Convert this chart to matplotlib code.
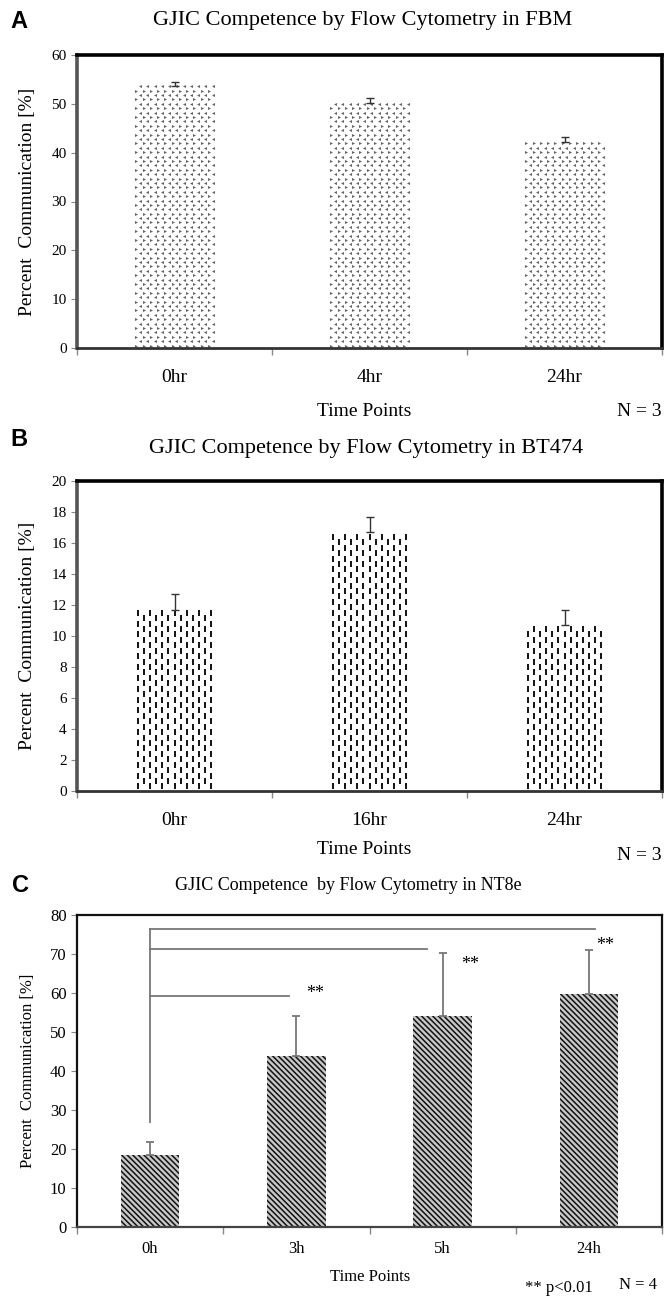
import numpy as np
import matplotlib
matplotlib.use("Agg")
import matplotlib.pyplot as plt

# ---------------- data ----------------
a_labels = ["0hr", "4hr", "24hr"]
a_values = [53.7, 50.2, 42.2]
a_errors = [0.8, 0.9, 1.0]

b_labels = ["0hr", "16hr", "24hr"]
b_values = [11.7, 16.7, 10.7]
b_errors = [1.0, 1.0, 1.0]

c_labels = ["0h", "3h", "5h", "24h"]
c_values = [18.5, 43.8, 54.0, 59.7]
c_errors = [3.3, 10.4, 16.3, 11.3]

# significance brackets (from 0h to target)
sig_levels = [59.3, 71.3, 76.5]
sig_ends = [0.95, 1.89, 3.04]
sig_vline = [27.0, 76.5]
star_pos_x = [1.13, 2.19, 3.11]
star_pos_y = [60.0, 67.4, 72.3]

W, H = 664, 1298
plt.rcParams['font.family'] = ['Liberation Serif', 'DejaVu Serif']
fig = plt.figure(figsize=(W / 100, H / 100), dpi=100)


def rect(l, r, t, b):
    return [l / W, 1 - b / H, (r - l) / W, (b - t) / H]


def ftext(x, y, s, **kw):
    fig.text(x / W, 1 - y / H, s, **kw)


def setup_x(ax, labels, fs):
    n = len(labels)
    ax.set_xlim(-0.5, n - 0.5)
    ax.set_xticks(np.arange(n + 1) - 0.5)
    ax.set_xticklabels([])
    ax.set_xticks(np.arange(n), minor=True)
    ax.set_xticklabels(labels, minor=True, fontsize=fs)
    ax.tick_params(axis='x', which='major', direction='out', length=5, width=1, color='#888888')
    ax.tick_params(axis='x', which='minor', length=0, pad=15)


def box_spines(ax):
    for s in ['left', 'right', 'top']:
        ax.spines[s].set_linewidth(2.6)
    ax.spines['left'].set_color('#555555')
    ax.spines['bottom'].set_linewidth(2.0)
    ax.spines['bottom'].set_color('#333333')


bw = 0.41

# ---------------- Panel A ----------------
axA = fig.add_axes(rect(77, 662, 55, 348))
xa = np.arange(len(a_values))
axA.bar(xa, a_values, width=bw, color='white', edgecolor='none', zorder=1)
for xi, v in zip(xa, a_values):
    ys = np.arange(0.5, v, 0.9)
    for j, y in enumerate(ys):
        off = 0.0 if j % 2 == 0 else 0.5
        xs = xi - bw / 2 + (np.arange(11) + 0.25 + off) * (bw / 11)
        xs = xs[xs < xi + bw / 2]
        axA.plot(xs, np.full_like(xs, y), ls='none', marker='>' if j % 2 == 0 else '<',
                 ms=2.2, color='#666666', mew=0, zorder=2)
axA.errorbar(xa, a_values, yerr=[np.zeros(3), a_errors], fmt='none',
             ecolor='#333333', elinewidth=1, capsize=3, capthick=1, zorder=3)
axA.set_ylim(0, 60)
axA.set_yticks(np.arange(0, 61, 10))
axA.tick_params(axis='y', direction='out', length=4, color='#888888', labelsize=11)
setup_x(axA, a_labels, 14)
box_spines(axA)
axA.set_ylabel('Percent  Communication [%]', fontsize=14, labelpad=11)

ftext(10, 22, 'A', fontsize=17, fontweight='bold', family='Liberation Sans', va='center')
ftext(363, 20, 'GJIC Competence by Flow Cytometry in FBM', fontsize=16, ha='center', va='center')
ftext(364, 412, 'Time Points', fontsize=14, ha='center', va='center')
ftext(662, 412, 'N = 3', fontsize=14, ha='right', va='center')

# ---------------- Panel B ----------------
axB = fig.add_axes(rect(77, 662, 481, 791))
xb = np.arange(len(b_values))
axB.bar(xb, b_values, width=bw, color='white', edgecolor='none', zorder=1)
for xi, v in zip(xb, b_values):
    ncol = 13
    for k in range(ncol):
        x = xi - bw / 2 + (k + 0.5) * (bw / ncol)
        off = 0.0 if k % 2 == 0 else 0.35
        ys = np.arange(0.3 + off, v - 0.1, 0.7)
        axB.plot(np.full_like(ys, x), ys, ls='none', marker='|', ms=4.2,
                 mew=1.4, color='#111111', zorder=2)
axB.errorbar(xb, b_values, yerr=[np.zeros(3), b_errors], fmt='none',
             ecolor='#333333', elinewidth=1, capsize=3, capthick=1, zorder=3)
axB.set_ylim(0, 20)
axB.set_yticks(np.arange(0, 21, 2))
axB.tick_params(axis='y', direction='out', length=4, color='#888888', labelsize=11)
setup_x(axB, b_labels, 14)
box_spines(axB)
axB.set_ylabel('Percent  Communication [%]', fontsize=14, labelpad=11)

ftext(10, 439, 'B', fontsize=17, fontweight='bold', family='Liberation Sans', va='center')
ftext(366, 449, 'GJIC Competence by Flow Cytometry in BT474', fontsize=16, ha='center', va='center')
ftext(364, 850, 'Time Points', fontsize=14, ha='center', va='center')
ftext(662, 855, 'N = 3', fontsize=14, ha='right', va='center')

# ---------------- Panel C ----------------
axC = fig.add_axes(rect(77, 662, 915, 1227))
xc = np.arange(len(c_values))
plt.rcParams['hatch.linewidth'] = 1.1
axC.bar(xc, c_values, width=0.4, color='#c8c8c8', edgecolor='#111111',
        linewidth=0, hatch='\\\\\\\\\\\\', zorder=1)
axC.errorbar(xc, c_values, yerr=[np.zeros(4), c_errors], fmt='none',
             ecolor='#777777', elinewidth=1.3, capsize=3, capthick=1.3, zorder=3)
axC.plot([0, 0], sig_vline, color='#777777', lw=1.3, zorder=3)
for lvl, end in zip(sig_levels, sig_ends):
    axC.plot([0, end], [lvl, lvl], color='#777777', lw=1.3, zorder=3)
for sx, sy in zip(star_pos_x, star_pos_y):
    axC.text(sx, sy, '**', fontsize=13, ha='center', va='center')
axC.set_ylim(0, 80)
axC.set_yticks(np.arange(0, 81, 10))
axC.tick_params(axis='y', direction='out', length=4, color='#888888', labelsize=12)
setup_x(axC, c_labels, 12)
axC.tick_params(axis='x', which='minor', pad=10)
for s in ['left', 'right', 'top']:
    axC.spines[s].set_linewidth(1.6)
    axC.spines[s].set_color('#111111')
axC.spines['bottom'].set_linewidth(1.6)
axC.spines['bottom'].set_color('#444444')
axC.set_ylabel('Percent  Communication [%]', fontsize=12, labelpad=10)

ftext(12, 885, 'C', fontsize=17, fontweight='bold', family='Liberation Sans', va='center')
ftext(348, 886, 'GJIC Competence  by Flow Cytometry in NT8e', fontsize=13, ha='center', va='center')
ftext(370, 1277, 'Time Points', fontsize=12, ha='center', va='center')
ftext(593, 1288, '** p<0.01', fontsize=12, ha='right', va='center')
ftext(657, 1285, 'N = 4', fontsize=12, ha='right', va='center')

fig.savefig('out.png', dpi=100, facecolor='white')
